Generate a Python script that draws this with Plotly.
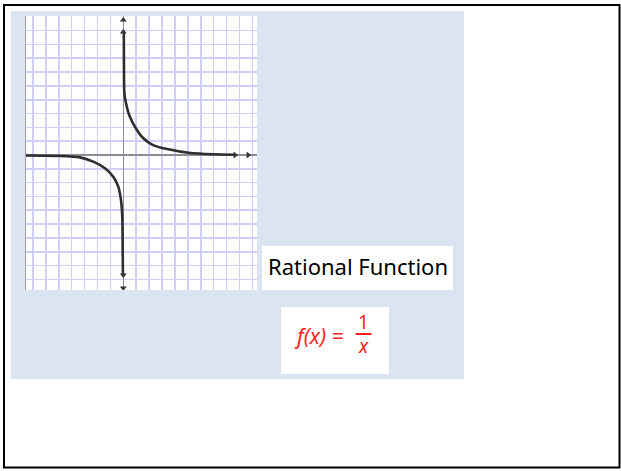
import plotly.graph_objects as go

W, H = 621, 471

# Curve points (grid units)
upper_x = [0.04, 0.05, 0.07, 0.12, 0.21, 0.35, 0.52, 0.91, 1.53, 2.30, 3.40, 5.20, 7.00, 8.60]
upper_y = [9.00, 6.50, 4.70, 4.20, 3.76, 3.20, 2.75, 2.03, 1.23, 0.72, 0.43, 0.14, 0.05, 0.02]
lower_x = [-7.54, -4.90, -3.36, -2.33, -1.42, -0.78, -0.39, -0.18, -0.08, -0.05, -0.03]
lower_y = [-0.04, -0.07, -0.17, -0.48, -0.96, -1.57, -2.29, -3.26, -4.46, -6.50, -8.70]

# arrowheads on the axes (grid units)
arrow_up_y = [9.77, 8.90]
arrow_down_y = [-8.68, -9.62]
arrow_right_x = [8.66, 9.67]

x_range = [-7.54, 10.36]
y_range = [-9.77, 10.06]

title_text = "Rational Function"
formula_lhs = "f(x) ="
formula_num = "1"
formula_den = "x"


def px(x):
    return x / W


def py(y):
    return 1 - y / H


fig = go.Figure()

curve_color = "#2e2e2e"
fig.add_trace(go.Scatter(x=upper_x, y=upper_y, mode="lines",
                         line=dict(color=curve_color, width=2.6, shape="spline", smoothing=0.6),
                         hoverinfo="skip"))
fig.add_trace(go.Scatter(x=lower_x, y=lower_y, mode="lines",
                         line=dict(color=curve_color, width=2.6, shape="spline", smoothing=0.6),
                         hoverinfo="skip"))
fig.add_trace(go.Scatter(x=[0] * len(arrow_up_y), y=arrow_up_y, mode="markers",
                         marker=dict(symbol="triangle-up", size=6, color="#333"),
                         hoverinfo="skip"))
fig.add_trace(go.Scatter(x=[0] * len(arrow_down_y), y=arrow_down_y, mode="markers",
                         marker=dict(symbol="triangle-down", size=6, color="#333"),
                         hoverinfo="skip"))
fig.add_trace(go.Scatter(x=arrow_right_x, y=[0] * len(arrow_right_x), mode="markers",
                         marker=dict(symbol="triangle-right", size=6, color="#333"),
                         hoverinfo="skip"))

shapes = [
    # outer black frame
    dict(type="rect", xref="paper", yref="paper", x0=px(4), x1=px(619.5), y0=py(467.5), y1=py(5),
         line=dict(color="black", width=2), fillcolor="white", layer="below"),
    # light blue panel
    dict(type="rect", xref="paper", yref="paper", x0=px(11), x1=px(464), y0=py(379), y1=py(11),
         line=dict(width=0), fillcolor="#dbe5f1", layer="below"),
    # graph white area
    dict(type="rect", xref="paper", yref="paper", x0=px(26), x1=px(257), y0=py(290), y1=py(16),
         line=dict(width=0), fillcolor="white", layer="below"),
    # label box
    dict(type="rect", xref="paper", yref="paper", x0=px(262), x1=px(453), y0=py(290), y1=py(246),
         line=dict(width=0), fillcolor="white", layer="below"),
    # formula box
    dict(type="rect", xref="paper", yref="paper", x0=px(281), x1=px(389), y0=py(374), y1=py(307),
         line=dict(width=0), fillcolor="white", layer="below"),
    # fraction bar
    dict(type="line", xref="paper", yref="paper", x0=px(355.5), x1=px(371.5), y0=py(334), y1=py(334),
         line=dict(color="#ff2020", width=2)),
]

annotations = [
    dict(text=title_text, xref="paper", yref="paper", x=px(357.5), y=py(266),
         showarrow=False, xanchor="center", yanchor="middle",
         font=dict(family="Noto Sans", size=22, color="black")),
    dict(text="<i>" + formula_lhs + "</i>", xref="paper", yref="paper", x=px(319), y=py(336),
         showarrow=False, xanchor="center", yanchor="middle",
         font=dict(family="Noto Sans", size=21, color="#ff2020")),
    dict(text=formula_num, xref="paper", yref="paper", x=px(363.5), y=py(322),
         showarrow=False, xanchor="center", yanchor="middle",
         font=dict(family="Noto Sans", size=19, color="#ff2020")),
    dict(text="<i>" + formula_den + "</i>", xref="paper", yref="paper", x=px(363), y=py(346),
         showarrow=False, xanchor="center", yanchor="middle",
         font=dict(family="Noto Sans", size=19, color="#ff2020")),
]

grid_color = "#cfcff8"
fig.update_layout(
    width=W, height=H, autosize=False,
    margin=dict(l=0, r=0, t=0, b=0),
    paper_bgcolor="white", plot_bgcolor="rgba(0,0,0,0)",
    showlegend=False,
    shapes=shapes, annotations=annotations,
    xaxis=dict(domain=[px(26), px(257)], range=x_range, dtick=1, tick0=0,
               showgrid=True, gridcolor=grid_color, gridwidth=1.6,
               zeroline=True, zerolinecolor="#8c8c98", zerolinewidth=1.5,
               showticklabels=False, ticks="", showline=False, fixedrange=True),
    yaxis=dict(domain=[py(290), py(16)], range=y_range, dtick=1, tick0=0,
               showgrid=True, gridcolor=grid_color, gridwidth=1.6,
               zeroline=True, zerolinecolor="#8c8c98", zerolinewidth=1.5,
               showticklabels=False, ticks="", showline=True, linecolor="#a0a0a8",
               linewidth=1, fixedrange=True),
)

fig.write_html(
    "out.html",
    config=dict(displayModeBar=False, staticPlot=True),
    post_script="document.body.style.margin='0';document.body.style.overflow='hidden';",
)
